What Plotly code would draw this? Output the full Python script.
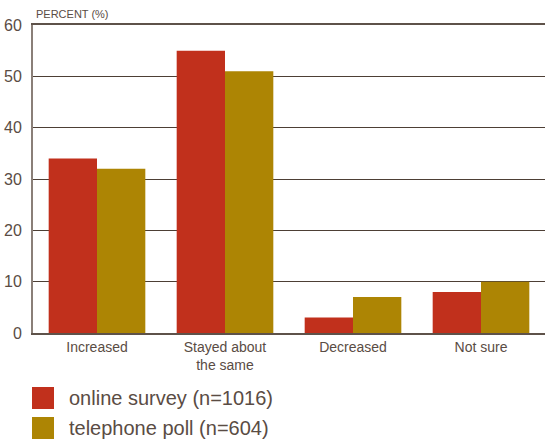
import plotly.graph_objects as go

categories = ["Increased", "Stayed about<br>the same", "Decreased", "Not sure"]
online = [34, 55, 3, 8]
telephone = [32, 51, 7, 10]
series_names = ["online survey (n=1016)", "telephone poll (n=604)"]
colors = ["#C1301C", "#AD8504"]
y_ticks = [0, 10, 20, 30, 40, 50, 60]

W, H = 545, 443
L, R, T, B = 33, 0, 25, 110
PW, PH = W - L - R, H - T - B

def px_x(x):
    return (x - L) / PW

def px_y(y):
    return (T + PH - y) / PH

text_color = "#5a4c44"
font_family = "Liberation Sans, Arial, sans-serif"

fig = go.Figure()
for name, vals, col in zip(series_names, [online, telephone], colors):
    fig.add_trace(go.Bar(x=categories, y=vals, name=name, marker_color=col,
                         marker_line_width=0, showlegend=False))

shapes = []
annotations = []
for i, (name, col) in enumerate(zip(series_names, colors)):
    top = 387 + i * 30
    shapes.append(dict(type="rect", xref="paper", yref="paper",
                       x0=px_x(32), x1=px_x(54), y0=px_y(top + 22), y1=px_y(top),
                       fillcolor=col, line_width=0))
    annotations.append(dict(text=name, xref="paper", yref="paper",
                            x=px_x(67), y=px_y(top + 11), xanchor="left", yanchor="middle",
                            showarrow=False, font=dict(size=20, color=text_color, family=font_family)))

annotations.append(dict(text="PERCENT (%)", xref="paper", yref="paper",
                        x=px_x(34), y=px_y(14), xanchor="left", yanchor="middle",
                        showarrow=False, font=dict(size=11, color=text_color, family=font_family)))

fig.update_layout(
    width=W, height=H,
    margin=dict(l=L, r=R, t=T, b=B, pad=0),
    paper_bgcolor="white", plot_bgcolor="white",
    barmode="group", bargap=0.245, bargroupgap=0,
    font=dict(family=font_family, color=text_color),
    shapes=shapes, annotations=annotations,
    xaxis=dict(showline=True, linecolor="#5e524a", linewidth=2, mirror=True,
               ticks="", tickfont=dict(size=14, color=text_color), showgrid=False),
    yaxis=dict(range=[0, 60], tickvals=y_ticks, showgrid=True, gridcolor="#4d3f35",
               gridwidth=1, showline=True, linecolor="#8a7f78", linewidth=2,
               zeroline=False, ticks="", tickfont=dict(size=16, color=text_color),
               ticklabelstandoff=6),
)

fig.write_html("out.html")
